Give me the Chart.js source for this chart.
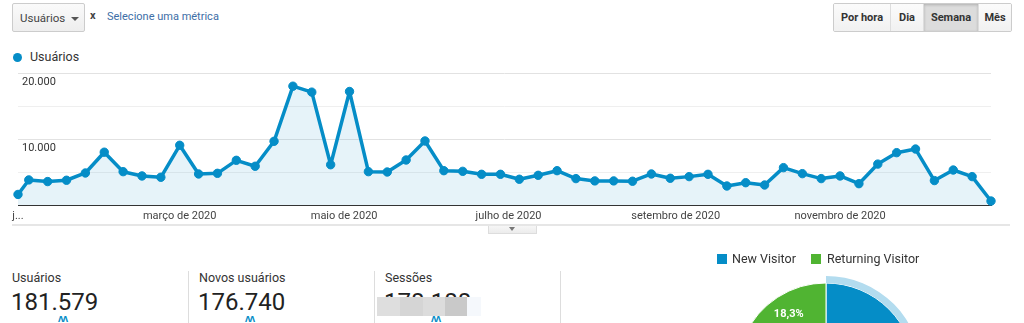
<!DOCTYPE html>
<html>
<head>
<meta charset="utf-8">
<script src="https://cdn.jsdelivr.net/npm/chart.js@4/dist/chart.umd.min.js"></script>
<style>
  html, body { margin: 0; padding: 0; }
  body { width: 1024px; height: 323px; overflow: hidden; position: relative; background: #fff; font-family: Roboto, "Liberation Sans", Arial, sans-serif; color: #333; }
  .abs { position: absolute; }
  .dropdown { left: 12px; top: 3px; width: 71px; height: 27px; border: 1px solid #ccc; border-radius: 2px;
    background: linear-gradient(#fafafa, #eeeeee); box-sizing: content-box; }
  .dropdown span { position: absolute; left: 7px; top: 7px; font-size: 11.5px; color: #444; }
  .caret { position: absolute; left: 58px; top: 13px; width: 0; height: 0; border-left: 4px solid transparent; border-right: 4px solid transparent; border-top: 4px solid #555; }
  .xbtn { left: 90px; top: 9px; font-size: 11px; font-weight: bold; color: #444; }
  .metric { left: 107px; top: 10px; font-size: 11px; color: #3d6ea6; }
  .btngroup { left: 833px; top: 3px; height: 29px; display: flex; border: 1px solid #ccc; border-radius: 2px; overflow: hidden; box-sizing: border-box; }
  .btngroup div { height: 27px; line-height: 27px; text-align: center; font-size: 11px; font-weight: bold; color: #333; background: linear-gradient(#fbfbfb, #f1f1f1); border-left: 1px solid #ddd; box-sizing: border-box; }
  .btngroup div:first-child { border-left: none; }
  .btngroup div.sel { background: #dcdcdc; box-shadow: inset 0 1px 3px rgba(0,0,0,0.2); }
  .legdot { left: 13px; top: 53px; width: 9px; height: 9px; border-radius: 50%; background: #058dc7; }
  .legtxt { left: 30px; top: 49px; font-size: 12.5px; color: #333; }
  .rule { left: 12px; top: 224px; width: 998px; height: 2px; background: #e6e6e6; }
  .tab { left: 488px; top: 226px; width: 47px; height: 7px; border: 1px solid #ddd; border-top: none; background: linear-gradient(#f6f6f6, #ececec); }
  .tab i { position: absolute; left: 20px; top: 1px; width: 0; height: 0; border-left: 3.5px solid transparent; border-right: 3.5px solid transparent; border-top: 4px solid #777; }
  .stat-l { font-size: 12.5px; color: #333; }
  .stat-v { font-size: 24px; color: #222; }
  .vdiv { width: 1px; background: #ddd; top: 271px; height: 52px; }
  .spark { font-size: 10px; color: #058dc7; font-weight: bold; top: 313px; letter-spacing: -1px; }
  .sq { width: 10px; height: 10px; top: 254px; }
  .pleg { top: 251px; font-size: 12.5px; color: #333; }
</style>
</head>
<body>
<div class="abs dropdown"><span>Usuários</span><div class="caret"></div></div>
<div class="abs xbtn">x</div>
<div class="abs metric">Selecione uma métrica</div>
<div class="abs btngroup">
  <div style="width:56px">Por hora</div>
  <div style="width:33px">Dia</div>
  <div class="sel" style="width:55px">Semana</div>
  <div style="width:33px">Mês</div>
</div>
<div class="abs legdot"></div>
<div class="abs legtxt">Usuários</div>

<canvas id="line" class="abs" width="1024" height="170" style="left:0;top:60px;width:1024px;height:170px"></canvas>

<div class="abs rule"></div>
<div class="abs tab"><i></i></div>

<div class="abs stat-l" style="left:12px;top:270px">Usuários</div>
<div class="abs stat-v" style="left:11px;top:288px">181.579</div>
<div class="abs spark" style="left:58px">ʌʌ</div>
<div class="abs vdiv" style="left:188px"></div>
<div class="abs stat-l" style="left:199px;top:270px">Novos usuários</div>
<div class="abs stat-v" style="left:198px;top:288px">176.740</div>
<div class="abs spark" style="left:245px">ʌʌ</div>
<div class="abs vdiv" style="left:374px"></div>
<div class="abs stat-l" style="left:385px;top:270px">Sessões</div>
<div class="abs stat-v" style="left:384px;top:288px">178.188</div>
<div class="abs" style="left:377px;top:297px;width:23px;height:19px;background:#dedede"></div>
<div class="abs" style="left:400px;top:297px;width:23px;height:19px;background:#d5d5d5"></div>
<div class="abs" style="left:423px;top:297px;width:22px;height:19px;background:#dcdcdc"></div>
<div class="abs" style="left:445px;top:297px;width:22px;height:19px;background:#c9c9c9"></div>
<div class="abs" style="left:467px;top:297px;width:14px;height:19px;background:#f5f8fc"></div>
<div class="abs spark" style="left:431px">ʌʌ</div>
<div class="abs vdiv" style="left:560px"></div>

<canvas id="pie" class="abs" width="220" height="220" style="left:716px;top:262px;width:220px;height:220px"></canvas>
<div class="abs sq" style="left:717px;background:#058dc7"></div>
<div class="abs pleg" style="left:732px">New Visitor</div>
<div class="abs sq" style="left:811px;background:#50b432"></div>
<div class="abs pleg" style="left:827px">Returning Visitor</div>

<script>
// ---- data ----
const weekDates = [
  '2020-01-01','2020-01-05','2020-01-12','2020-01-19','2020-01-26',
  '2020-02-02','2020-02-09','2020-02-16','2020-02-23',
  '2020-03-01','2020-03-08','2020-03-15','2020-03-22','2020-03-29',
  '2020-04-05','2020-04-12','2020-04-19','2020-04-26',
  '2020-05-03','2020-05-10','2020-05-17','2020-05-24','2020-05-31',
  '2020-06-07','2020-06-14','2020-06-21','2020-06-28',
  '2020-07-05','2020-07-12','2020-07-19','2020-07-26',
  '2020-08-02','2020-08-09','2020-08-16','2020-08-23','2020-08-30',
  '2020-09-06','2020-09-13','2020-09-20','2020-09-27',
  '2020-10-04','2020-10-11','2020-10-18','2020-10-25',
  '2020-11-01','2020-11-08','2020-11-15','2020-11-22','2020-11-29',
  '2020-12-06','2020-12-13','2020-12-20','2020-12-27'
];
const usuarios = [
  1600, 3800, 3550, 3750, 4850,
  8000, 5050, 4400, 4200,
  9050, 4700, 4800, 6770, 5870,
  9650, 18000, 17100, 6100,
  17200, 5050, 5000, 6820, 9700,
  5200, 5100, 4650, 4650,
  3900, 4500, 5200, 4000,
  3650, 3650, 3600, 4700, 4050,
  4300, 4650, 2880, 3380,
  3030, 5660, 4750, 4000,
  4400, 3230, 6200, 7930, 8480,
  3700, 5300, 4300, 600
];
const xTickDates = ['2020-01-01','2020-03-01','2020-05-01','2020-07-01','2020-09-01','2020-11-01'];
const xTickLabels = ['j...','março de 2020','maio de 2020','julho de 2020','setembro de 2020','novembro de 2020'];
const yTickValues = [0, 5000, 10000, 15000, 20000];
const yTickLabels = ['', '', '10.000', '', '20.000'];
const visitorTypes = ['New Visitor', 'Returning Visitor'];
const visitorShares = [81.7, 18.3];

// ---- helpers ----
const DAY = 86400000;
const start = Date.parse(weekDates[0]);
const dayOf = d => (Date.parse(d) - start) / DAY;
const endDay = dayOf(weekDates[weekDates.length - 1]);

Chart.defaults.font.family = 'Roboto, "Liberation Sans", Arial, sans-serif';

new Chart(document.getElementById('line'), {
  type: 'line',
  data: {
    datasets: [{
      label: 'Usuários',
      data: weekDates.map((d, i) => ({ x: dayOf(d), y: usuarios[i] })),
      borderColor: '#058dc7',
      backgroundColor: 'rgba(5,141,199,0.10)',
      borderWidth: 3.5,
      borderJoinStyle: 'round',
      borderCapStyle: 'round',
      fill: 'origin',
      tension: 0,
      pointRadius: 4.2,
      pointBackgroundColor: '#058dc7',
      pointBorderColor: '#058dc7',
      pointBorderWidth: 1,
      clip: false
    }]
  },
  options: {
    responsive: false,
    devicePixelRatio: 1,
    animation: false,
    events: [],
    layout: { padding: { top: 13, left: 18, right: 33, bottom: 0 } },
    plugins: { legend: { display: false }, tooltip: { enabled: false } },
    scales: {
      x: {
        type: 'linear',
        min: 0,
        max: endDay,
        afterBuildTicks: s => { s.ticks = xTickDates.map(d => ({ value: dayOf(d) })); },
        afterFit: s => { s.height = 25; },
        grid: { display: false, drawTicks: false },
        border: { display: true, color: '#333', width: 1 },
        ticks: {
          autoSkip: false, maxRotation: 0, minRotation: 0, padding: 5,
          color: '#444', font: { size: 11 },
          callback: (v, i) => xTickLabels[i]
        }
      },
      y: {
        min: 0,
        max: 20000,
        afterBuildTicks: s => { s.ticks = yTickValues.map(v => ({ value: v })); },
        afterFit: s => { s.width = 0; },
        border: { display: false },
        grid: {
          drawTicks: false,
          color: c => (yTickLabels[c.index] ? '#e2e2e2' : '#efefef')
        },
        ticks: {
          mirror: true, padding: 4, labelOffset: 9,
          color: '#333', font: { size: 11 },
          callback: (v, i) => yTickLabels[i]
        }
      }
    }
  }
});

const sliceLabels = {
  id: 'sliceLabels',
  afterDatasetsDraw(chart) {
    const meta = chart.getDatasetMeta(1);
    const ctx = chart.ctx;
    ctx.save();
    ctx.fillStyle = '#fff';
    ctx.font = 'bold 11px Roboto, Arial, sans-serif';
    ctx.textAlign = 'center';
    ctx.textBaseline = 'middle';
    meta.data.forEach((arc, i) => {
      const mid = (arc.startAngle + arc.endAngle) / 2;
      const r = arc.outerRadius * 0.77;
      const txt = visitorShares[i].toFixed(1).replace('.', ',') + '%';
      ctx.fillText(txt, arc.x + Math.cos(mid) * r, arc.y + Math.sin(mid) * r);
    });
    ctx.restore();
  }
};

new Chart(document.getElementById('pie'), {
  type: 'pie',
  data: {
    labels: visitorTypes,
    datasets: [
      {
        data: visitorShares,
        backgroundColor: ['#b3dcef', 'rgba(0,0,0,0)'],
        borderWidth: 0,
        weight: 7
      },
      {
        data: visitorShares,
        backgroundColor: ['#058dc7', '#50b432'],
        borderColor: '#fff',
        borderWidth: 1,
        weight: 89
      }
    ]
  },
  options: {
    responsive: false,
    devicePixelRatio: 1,
    animation: false,
    events: [],
    radius: 96,
    plugins: { legend: { display: false }, tooltip: { enabled: false } }
  },
  plugins: [sliceLabels]
});
</script>
</body>
</html>
